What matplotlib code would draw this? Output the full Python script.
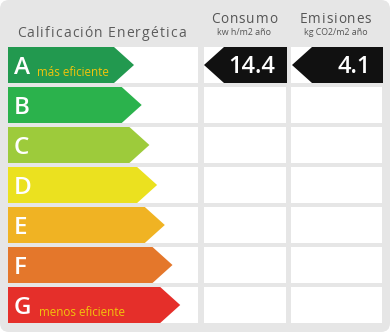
import matplotlib
matplotlib.use("Agg")
import matplotlib.pyplot as plt
from matplotlib import font_manager
from matplotlib.ft2font import FT2Font
from matplotlib.patches import FancyBboxPatch, Polygon, Rectangle

# Energy rating data
grades = ["A", "B", "C", "D", "E", "F", "G"]
grade_colors = ["#22994f", "#2bb24c", "#9dcb3b", "#ebe11f", "#f0b323", "#e4772b", "#e52f2a"]
grade_notes = {"A": "más eficiente", "G": "menos eficiente"}
title = "Calificación Energética"
col_titles = ["Consumo", "Emisiones"]
col_units = ["kw h/m2 año", "kg CO2/m2 año"]
consumo_value = 14.4
emisiones_value = 4.1
consumo_grade = "A"
emisiones_grade = "A"

FONT = "Open Sans"
BG = "#e6e6e6"
DPI = 100

fig = plt.figure(figsize=(3.9, 3.32), dpi=DPI)
ax = fig.add_axes([0, 0, 1, 1])
ax.set_xlim(0, 390)
ax.set_ylim(332, 0)
ax.axis("off")
fig.patch.set_facecolor("white")

ax.add_patch(FancyBboxPatch((0, 0), 390, 332,
                            boxstyle="round,pad=0,rounding_size=9",
                            fc=BG, ec="none"))


def advances(s, size, weight="normal"):
    """Horizontal advance of each character, in pixels."""
    path = font_manager.findfont(font_manager.FontProperties(family=FONT, weight=weight))
    font = FT2Font(path)
    font.set_size(size, DPI)
    out = []
    for ch in s:
        g = font.load_char(ord(ch))
        out.append(g.linearHoriAdvance / 65536)
    return out


def spaced_text(x, y, s, size, color, spacing, ha="left", weight="normal"):
    """Draw text with extra letter spacing (in pixels)."""
    widths = advances(s, size, weight)
    total = sum(widths) + spacing * (len(s) - 1)
    if ha == "center":
        x = x - total / 2
    cx = x
    for ch, w in zip(s, widths):
        if ch != " ":
            ax.text(cx, y, ch, fontsize=size, family=FONT, color=color,
                    weight=weight, va="baseline", ha="left")
        cx += w + spacing


# layout
row_top0, row_h, row_pitch = 47, 36, 40
left_x0, left_x1 = 8, 198
cols = [(204, 286), (291, 382)]

spaced_text(17, 37, title, 10.0, "#5c5c5c", 1.1)
for (c0, c1), name, unit in zip(cols, col_titles, col_units):
    cx = (c0 + c1) / 2 - 1
    spaced_text(cx, 23, name, 9.8, "#555555", 0.9, ha="center")
    ax.text(cx, 35, unit, fontsize=6.4, family=FONT, color="#555555",
            ha="center", va="baseline")

for i, (g, col) in enumerate(zip(grades, grade_colors)):
    top = row_top0 + i * row_pitch
    bot = top + row_h
    mid = (top + bot) / 2
    ax.add_patch(Rectangle((left_x0, top), left_x1 - left_x0, row_h, fc="white", ec="none"))
    for c0, c1 in cols:
        ax.add_patch(Rectangle((c0, top), c1 - c0, row_h, fc="white", ec="none"))
    tip = 134 + 7.7 * i
    body = tip - 20
    ax.add_patch(Polygon([(left_x0, top), (body, top), (tip, mid), (body, bot), (left_x0, bot)],
                         closed=True, fc=col, ec="none"))
    ax.text(14, top + 27, g, fontsize=17.5, family=FONT, weight="semibold", color="white",
            va="baseline", ha="left")
    if g in grade_notes:
        ax.text(37 + (2 if g == "G" else 0), top + 29, grade_notes[g], fontsize=8.4,
                family=FONT, color="#f2c40c", va="baseline", ha="left")

# value arrows
for (c0, c1), val, grade, tip_x, rect_x in [
        (cols[0], consumo_value, consumo_grade, 204, 224),
        (cols[1], emisiones_value, emisiones_grade, 292, 312)]:
    i = grades.index(grade)
    top = row_top0 + i * row_pitch
    bot = top + row_h
    mid = (top + bot) / 2
    ax.add_patch(Polygon([(tip_x, mid), (rect_x, top), (c1 + 1, top), (c1 + 1, bot), (rect_x, bot)],
                         closed=True, fc="#111111", ec="none"))
    ax.text(c1 - 11, top + 26, f"{val:.1f}", fontsize=17, family=FONT, weight="semibold",
            color="white", va="baseline", ha="right")

fig.savefig("out.png", dpi=DPI, facecolor="white")
